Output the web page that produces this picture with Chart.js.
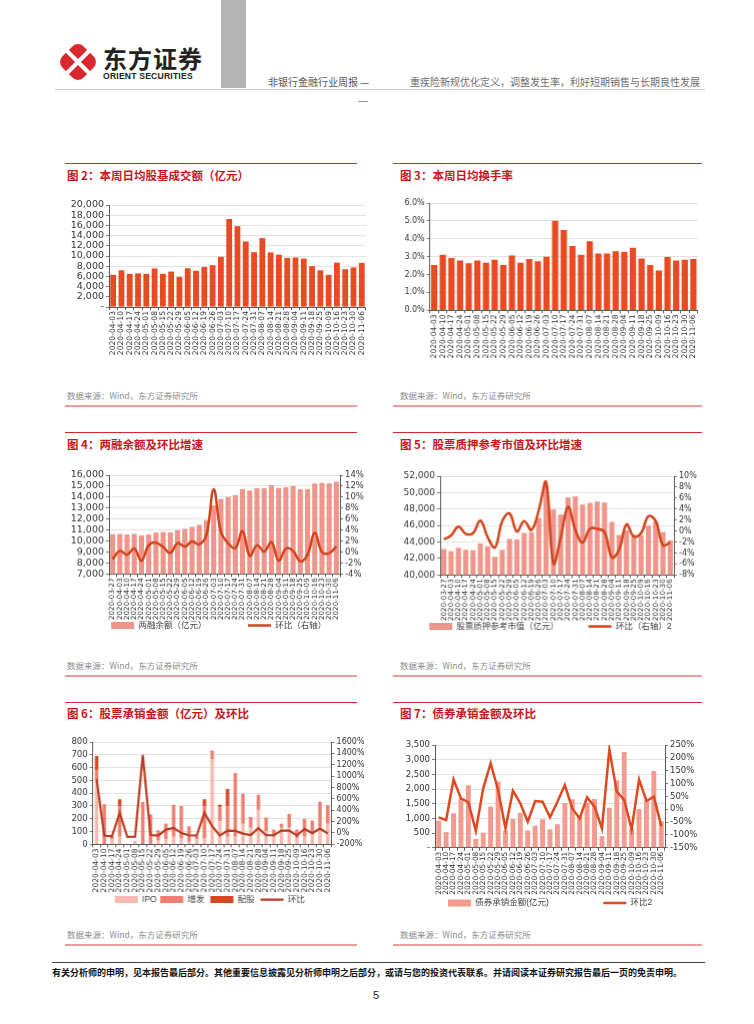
<!DOCTYPE html>
<html><head><meta charset="utf-8">
<script src="https://cdn.jsdelivr.net/npm/chart.js@4.4.0/dist/chart.umd.min.js"></script>
<style>
body{margin:0;background:#fff;}
#page{position:relative;width:754px;height:1024px;overflow:hidden;font-family:"Noto Sans CJK SC",sans-serif;background:#fff;}
.abs{position:absolute;}
.title{position:absolute;color:#c8161d;font-weight:bold;font-size:11.5px;line-height:14px;white-space:nowrap;}
.src{position:absolute;color:#8c8c8c;font-size:8.5px;line-height:10px;white-space:nowrap;}
.rline{position:absolute;height:1px;background:#d42a2a;}
.pline{position:absolute;height:2px;background:#ef9c9c;}
.cbox{position:absolute;}
</style></head>
<body><div id="page">
<!-- header -->
<svg class="abs" style="left:56px;top:40px" width="44" height="44" viewBox="0 0 44 44">
 <g transform="rotate(45 22 22)"><rect x="7" y="7" width="30" height="30" rx="8" fill="#d7282f"/></g>
 <line x1="5" y1="5" x2="39" y2="39" stroke="#fff" stroke-width="4"/>
 <line x1="39" y1="5" x2="5" y2="39" stroke="#fff" stroke-width="4"/>
</svg>
<div class="abs" style="left:103px;top:44px;font-size:24px;font-weight:bold;color:#222;line-height:28px;letter-spacing:1px;">东方证券</div>
<div class="abs" style="left:103px;top:71px;font-family:'Liberation Sans',sans-serif;font-size:8.6px;font-weight:bold;color:#222;line-height:10px;letter-spacing:0.2px;">ORIENT SECURITIES</div>
<div class="abs" style="left:221px;top:0;width:25px;height:88px;background:#b4b4b4;"></div>
<div class="abs" style="left:268px;top:76px;font-size:10px;color:#555;line-height:12px;white-space:nowrap;">非银行金融行业周报 —</div>
<div class="abs" style="left:410px;top:76px;font-size:10px;color:#6e6e6e;line-height:12px;white-space:nowrap;">重疾险新规优化定义，调整发生率，利好短期销售与长期良性发展</div>
<div class="abs" style="left:55px;top:89px;width:650px;height:1px;background:#cfcfcf;"></div>
<div class="abs" style="left:358px;top:101px;width:10px;height:1px;background:#999;"></div>

<!-- row 1 -->
<div class="rline" style="left:65px;top:163px;width:292px;"></div>
<div class="title" style="left:67px;top:168px;">图 2：本周日均股基成交额（亿元）</div>
<div class="cbox" style="left:55px;top:195px;width:317px;height:164px;"><canvas id="c2"></canvas></div>
<div class="src" style="left:67px;top:390px;">数据来源：Wind，东方证券研究所</div>
<div class="pline" style="left:65px;top:405px;width:292px;"></div>

<div class="rline" style="left:393px;top:163px;width:309px;"></div>
<div class="title" style="left:400px;top:168px;">图 3：本周日均换手率</div>
<div class="cbox" style="left:385px;top:192.7px;width:317.6px;height:169.3px;"><canvas id="c3"></canvas></div>
<div class="src" style="left:400px;top:390px;">数据来源：Wind，东方证券研究所</div>
<div class="pline" style="left:393px;top:405px;width:309px;"></div>

<!-- row 2 -->
<div class="rline" style="left:65px;top:432px;width:292px;"></div>
<div class="title" style="left:67px;top:437px;">图 4：两融余额及环比增速</div>
<div class="cbox" style="left:69px;top:465px;width:299.4px;height:173.75px;"><canvas id="c4"></canvas></div>
<div class="src" style="left:67px;top:660px;">数据来源：Wind，东方证券研究所</div>
<div class="pline" style="left:65px;top:675px;width:292px;"></div>

<div class="rline" style="left:393px;top:432px;width:309px;"></div>
<div class="title" style="left:400px;top:437px;">图 5：股票质押参考市值及环比增速</div>
<div class="cbox" style="left:400px;top:466px;width:299.8px;height:173.75px;"><canvas id="c5"></canvas></div>
<div class="src" style="left:400px;top:660px;">数据来源：Wind，东方证券研究所</div>
<div class="pline" style="left:393px;top:675px;width:309px;"></div>

<!-- row 3 -->
<div class="rline" style="left:65px;top:702px;width:292px;"></div>
<div class="title" style="left:67px;top:706px;">图 6：股票承销金额（亿元）及环比</div>
<div class="cbox" style="left:55.4px;top:731.7px;width:308.6px;height:181.8px;"><canvas id="c6"></canvas></div>
<div class="src" style="left:67px;top:929px;">数据来源：Wind，东方证券研究所</div>
<div class="pline" style="left:65px;top:944px;width:292px;"></div>

<div class="rline" style="left:393px;top:702px;width:309px;"></div>
<div class="title" style="left:400px;top:706px;">图 7：债券承销金额及环比</div>
<div class="cbox" style="left:402px;top:735px;width:296.3px;height:182.2px;"><canvas id="c7"></canvas></div>
<div class="src" style="left:400px;top:929px;">数据来源：Wind，东方证券研究所</div>
<div class="pline" style="left:393px;top:944px;width:309px;"></div>

<!-- footer -->
<div class="abs" style="left:52px;top:962px;width:653px;height:1px;background:#444;"></div>
<div class="abs" style="left:52px;top:967px;font-size:9px;font-weight:bold;color:#111;line-height:11px;white-space:nowrap;">有关分析师的申明，见本报告最后部分。其他重要信息披露见分析师申明之后部分，或请与您的投资代表联系。并请阅读本证券研究报告最后一页的免责申明。</div>
<div class="abs" style="left:373px;top:989px;font-family:'Liberation Sans',sans-serif;font-size:11px;color:#222;line-height:13px;">5</div>
</div>

<script>
// ---------- data ----------
const dates31 = ['2020-04-03','2020-04-10','2020-04-17','2020-04-24','2020-05-01','2020-05-08','2020-05-15','2020-05-22','2020-05-29','2020-06-05','2020-06-12','2020-06-19','2020-06-26','2020-07-03','2020-07-10','2020-07-17','2020-07-24','2020-07-31','2020-08-07','2020-08-14','2020-08-21','2020-08-28','2020-09-04','2020-09-11','2020-09-18','2020-09-25','2020-10-09','2020-10-16','2020-10-23','2020-10-30','2020-11-06'];
const dates32 = ['2020-03-27'].concat(dates31);

const tradeAmount = [6300,7200,6500,6600,6500,7550,6500,6950,5900,7600,7100,7850,8200,9850,17250,15850,12850,10750,13500,10700,10250,9650,9700,9500,8000,7200,6300,8700,7400,7750,8650];
const turnoverRate = [2.53,3.11,2.93,2.79,2.63,2.79,2.66,2.83,2.53,3.07,2.66,2.87,2.74,3.0,5.01,4.49,3.6,3.11,3.86,3.17,3.17,3.3,3.26,3.5,2.89,2.53,2.22,2.98,2.78,2.83,2.87];

const marginBalance = [10620,10650,10600,10650,10510,10600,10790,10820,10790,10990,11100,11290,11460,11910,13240,13830,14020,14160,14720,14610,14800,14800,15080,14830,14910,15000,14720,14720,15250,15300,15250,15390];
const marginChange = [-1.3,0.2,-0.5,0.6,-1.6,1.2,1.7,0.9,-0.2,1.6,1.0,1.9,1.4,3.1,11.4,3.7,1.6,0.7,3.8,-0.7,1.2,0.1,1.8,-1.6,0.6,0.2,-1.7,-0.5,3.5,0.0,-0.2,1.0];

const pledgeValue = [43150,42890,43300,43070,43000,43810,43480,42190,43070,44370,44300,45110,45190,46890,50890,47930,47330,49410,49520,48560,48740,48930,48810,46440,44850,45400,44900,44800,46000,46500,45200,44200];
const pledgeChange = [-1.5,-0.8,0.8,-0.5,-0.4,1.9,-1.1,-3.0,1.8,3.2,-0.1,1.8,0.2,3.8,8.9,-5.9,-1.2,4.4,0.2,-2.1,0.4,0.4,-0.2,-4.8,-3.4,1.2,-1.0,-0.4,2.7,1.8,-2.6,-2.1];

const ipoAmt    = [500,0,40,60,5,20,0,0,30,40,60,50,20,40,50,665,180,60,60,160,130,270,100,60,130,130,50,60,80,130,160];
const seoAmt    = [80,313,20,240,0,0,330,234,80,123,250,250,122,23,250,69,110,240,498,235,83,117,110,56,30,107,66,137,107,202,145];
const rightsAmt = [110,0,0,53,0,4,0,0,0,0,0,0,0,0,53,0,20,132,0,0,0,0,0,0,0,0,0,0,0,0,0];
const equityChange = [947,-47,-59,355,-71,-65,1373,-36,-47,59,89,-3,-41,-45,355,118,-47,41,35,-12,-36,83,-41,-41,41,41,-45,70,-5,78,-8];

const bondAmt = [920,534,1170,1680,2125,295,511,1400,2260,580,977,1190,590,750,966,625,795,1520,1650,1060,1520,1660,400,1360,2300,3260,640,1320,1600,2614,900];
const bondChange = [-32,-42,116,42,27,-84,81,179,75,-75,72,23,-49,32,29,-32,29,94,3,-36,46,10,-75,232,68,36,-79,116,32,49,-66];

// ---------- helpers ----------
const txtFont = "'Liberation Sans','Noto Sans CJK SC',sans-serif";
const numFont = "'DejaVu Sans',sans-serif";
Chart.defaults.font.family = txtFont;
Chart.defaults.color = '#333';
Chart.defaults.animation = false;
Chart.defaults.plugins.tooltip.enabled = false;
const AX = '#5a5a5a', GR = '#dadada';

function yAxis(o) {
  return {
    type: 'linear', position: o.pos || 'left', min: o.min, max: o.max,
    grid: {display: true, drawOnChartArea: o.grid !== false, drawTicks: true, tickLength: 3, color: GR, tickColor: AX, lineWidth: 0.8},
    border: {display: true, color: AX, width: 1},
    ticks: {stepSize: o.step, font: {family: numFont, size: o.fs || 9}, color: '#333', padding: 2, callback: o.fmt, autoSkip: false},
    afterFit(s) { s.width = o.w; }
  };
}
function xAxis(h, fs) {
  return {
    type: 'category', offset: true,
    grid: {display: true, drawOnChartArea: false, drawTicks: true, tickLength: 3, tickColor: AX, offset: true},
    border: {display: true, color: AX, width: 1},
    ticks: {autoSkip: false, minRotation: 90, maxRotation: 90, font: {family: numFont, size: fs || 7.6}, color: '#333', padding: 1},
    afterFit(s) { s.height = h; }
  };
}
function legendOpts(extra) {
  return {
    display: true, position: 'bottom', align: 'center',
    labels: {
      usePointStyle: true, pointStyleWidth: 23, boxHeight: 7, padding: 1,
      font: {family: txtFont, size: 8.5}, color: '#404040',
      sort: (a, b) => a.datasetIndex - b.datasetIndex,
      generateLabels(chart) {
        const items = Chart.defaults.plugins.legend.labels.generateLabels(chart);
        items.forEach(it => { it.text = it.text + (extra[it.datasetIndex] || ''); });
        return items;
      }
    }
  };
}
const comma = v => v === 0 ? '-' : v.toLocaleString('en-US');
const sp = (n, m) => '\u3000'.repeat(n) + ' '.repeat(m || 0);

// ---------- chart 2 ----------
new Chart(document.getElementById('c2'), {
  type: 'bar',
  data: {labels: dates31, datasets: [{label: '日均股基成交额', data: tradeAmount, backgroundColor: '#e84a22', barPercentage: 0.7, categoryPercentage: 1}]},
  options: {
    responsive: true, maintainAspectRatio: false,
    layout: {padding: {top: 10, left: 0, right: 6, bottom: 2}},
    plugins: {legend: {display: false}},
    scales: {x: xAxis(50), y: yAxis({min: 0, max: 20000, step: 2000, w: 54, fmt: comma, fs: 9.5})}
  }
});

// ---------- chart 3 ----------
new Chart(document.getElementById('c3'), {
  type: 'bar',
  data: {labels: dates31, datasets: [{label: '日均换手率', data: turnoverRate, backgroundColor: '#e84a22', barPercentage: 0.72, categoryPercentage: 1}]},
  options: {
    responsive: true, maintainAspectRatio: false,
    layout: {padding: {top: 10, left: 0, right: 5, bottom: 2}},
    plugins: {legend: {display: false}},
    scales: {x: xAxis(50), y: yAxis({min: 0, max: 6, step: 1, w: 44.7, fmt: v => v.toFixed(1) + '%', fs: 8})}
  }
});

// ---------- chart 4 ----------
new Chart(document.getElementById('c4'), {
  type: 'bar',
  data: {labels: dates32, datasets: [
    {type: 'bar', label: '两融余额（亿元）', data: marginBalance, yAxisID: 'y', backgroundColor: '#f0958a', barPercentage: 0.7, categoryPercentage: 1, pointStyle: 'rect', order: 2},
    {type: 'line', label: '环比（右轴）', data: marginChange, yAxisID: 'y1', borderColor: '#d4431a', borderWidth: 2.5, tension: 0.4, pointRadius: 0, pointStyle: 'line', pointBorderColor: '#d4431a', pointBorderWidth: 2.5, order: 1}
  ]},
  options: {
    responsive: true, maintainAspectRatio: false,
    layout: {padding: {top: 10, left: 0, right: 0, bottom: 0}},
    plugins: {legend: legendOpts([sp(5, 1), ''])},
    scales: {
      x: xAxis(46, 7.2),
      y: yAxis({min: 7000, max: 16000, step: 1000, w: 40, fmt: comma, fs: 9.5}),
      y1: yAxis({pos: 'right', min: -4, max: 14, step: 2, w: 28.4, grid: false, fmt: v => v + '%', fs: 8.5})
    }
  }
});

// ---------- chart 5 ----------
new Chart(document.getElementById('c5'), {
  type: 'bar',
  data: {labels: dates32, datasets: [
    {type: 'bar', label: '股票质押参考市值（亿元）', data: pledgeValue, yAxisID: 'y', backgroundColor: '#f0958a', barPercentage: 0.7, categoryPercentage: 1, pointStyle: 'rect', order: 2},
    {type: 'line', label: '环比（右轴）2', data: pledgeChange, yAxisID: 'y1', borderColor: '#d4431a', borderWidth: 2.5, tension: 0.4, pointRadius: 0, pointStyle: 'line', pointBorderColor: '#d4431a', pointBorderWidth: 2.5, order: 1}
  ]},
  options: {
    responsive: true, maintainAspectRatio: false,
    layout: {padding: {top: 10, left: 0, right: 0, bottom: 0}},
    plugins: {legend: legendOpts([sp(3, 3), ''])},
    scales: {
      x: xAxis(46, 7.2),
      y: yAxis({min: 40000, max: 52000, step: 2000, w: 40, fmt: comma, fs: 9}),
      y1: yAxis({pos: 'right', min: -8, max: 10, step: 2, w: 26.8, grid: false, fmt: v => v + '%', fs: 8})
    }
  }
});

// ---------- chart 6 ----------
new Chart(document.getElementById('c6'), {
  type: 'bar',
  data: {labels: dates31, datasets: [
    {type: 'bar', label: 'IPO', data: ipoAmt, yAxisID: 'y', backgroundColor: '#f7b8af', barPercentage: 0.45, categoryPercentage: 1, pointStyle: 'rect', stack: 's', order: 2},
    {type: 'bar', label: '增发', data: seoAmt, yAxisID: 'y', backgroundColor: '#ee7e6f', barPercentage: 0.45, categoryPercentage: 1, pointStyle: 'rect', stack: 's', order: 2},
    {type: 'bar', label: '配股', data: rightsAmt, yAxisID: 'y', backgroundColor: '#d9471e', barPercentage: 0.45, categoryPercentage: 1, pointStyle: 'rect', stack: 's', order: 2},
    {type: 'line', label: '环比', data: equityChange, yAxisID: 'y1', borderColor: '#b93a1e', borderWidth: 2.2, tension: 0, pointRadius: 0, pointStyle: 'line', pointBorderColor: '#b93a1e', pointBorderWidth: 2.2, order: 1}
  ]},
  options: {
    responsive: true, maintainAspectRatio: false,
    layout: {padding: {top: 10, left: 0, right: 0, bottom: 0}},
    plugins: {legend: legendOpts([sp(0, 1), sp(0, 2), sp(0, 2), ''])},
    scales: {
      x: Object.assign(xAxis(50), {stacked: true}),
      y: Object.assign(yAxis({min: 0, max: 800, step: 100, w: 37.6, fmt: v => String(v), fs: 8.5}), {stacked: true}),
      y1: yAxis({pos: 'right', min: -200, max: 1600, step: 200, w: 33, grid: false, fmt: v => v + '%', fs: 8})
    }
  }
});

// ---------- chart 7 ----------
new Chart(document.getElementById('c7'), {
  type: 'bar',
  data: {labels: dates31, datasets: [
    {type: 'bar', label: '债券承销金额(亿元)', data: bondAmt, yAxisID: 'y', backgroundColor: '#f29b8e', barPercentage: 0.66, categoryPercentage: 1, pointStyle: 'rect', order: 2},
    {type: 'line', label: '环比2', data: bondChange, yAxisID: 'y1', borderColor: '#e0491f', borderWidth: 2.5, tension: 0, pointRadius: 0, pointStyle: 'line', pointBorderColor: '#e0491f', pointBorderWidth: 2.5, order: 1}
  ]},
  options: {
    responsive: true, maintainAspectRatio: false,
    layout: {padding: {top: 10, left: 0, right: 0, bottom: 0}},
    plugins: {legend: legendOpts([sp(6, 1), ''])},
    scales: {
      x: xAxis(50, 7.4),
      y: yAxis({min: 0, max: 3500, step: 500, w: 33, fmt: comma, fs: 8.5}),
      y1: yAxis({pos: 'right', min: -150, max: 250, step: 50, w: 33.3, grid: false, fmt: v => v + '%', fs: 8.5})
    }
  }
});
</script>
</body></html>
